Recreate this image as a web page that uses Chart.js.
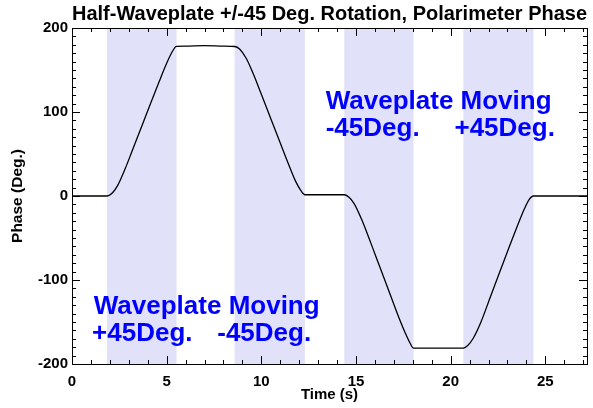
<!DOCTYPE html>
<html>
<head>
<meta charset="utf-8">
<script src="https://cdn.jsdelivr.net/npm/chart.js@4/dist/chart.umd.min.js"></script>
<style>
  html, body { margin: 0; padding: 0; background: #fff; }
  #wrap { width: 593px; height: 408px; }
</style>
</head>
<body>
<div id="wrap"><canvas id="phaseChart"></canvas></div>
<script>
// Tempo (s) e fase (graus)
const tempo = [0, 1.85, 2.1, 2.4, 2.8, 3.2, 3.7, 4.2, 4.6, 5.0, 5.3, 5.52,
    6.0, 7.0, 8.0, 8.6,
    8.85, 9.2, 9.6, 10.0, 10.5, 11.0, 11.4, 11.8, 12.1, 12.3,
    13.0, 14.38,
    14.6, 14.9, 15.3, 15.8, 16.3, 16.8, 17.2, 17.6, 17.85, 18.04,
    19.0, 20.67,
    20.9, 21.2, 21.6, 22.1, 22.6, 23.1, 23.5, 23.9, 24.15, 24.37,
    25.0, 27.2];
const fase = [0, 0, 3, 12, 32, 55, 84, 113, 136, 158, 172, 178,
    178.5, 179, 178.5, 178,
    175, 164, 144, 121, 92, 63, 40, 18, 6, 1.5,
    1.5, 1.5,
    -1, -9, -28, -57, -87, -117, -141, -163, -175, -181,
    -181, -181,
    -178, -169, -150, -120, -90, -60, -37, -15, -4, 0,
    0, 0];

// Intervalos em que a lâmina se move
const faixaInicio = [1.85, 8.59, 14.38, 20.67];
const faixaFim = [5.52, 12.3, 18.04, 24.37];

const xTicks = [0, 5, 10, 15, 20, 25];
const yTicks = [-200, -100, 0, 100, 200];

// Anotações (coordenadas nos dados)
const anotTextos = ['Waveplate Moving', '-45Deg.', '+45Deg.', 'Waveplate Moving', '+45Deg.', '-45Deg.'];
const anotX = [13.4, 13.4, 20.2, 1.15, 1.06, 7.67];
const anotY = [104, 72, 72, -140.8, -173, -173];

const FONTE = '"Liberation Sans", Arial, Helvetica, sans-serif';

const faixasPlugin = {
    id: 'faixas',
    beforeDatasetsDraw(chart) {
        const { ctx, chartArea, scales } = chart;
        ctx.save();
        ctx.fillStyle = '#e1e1fa';
        faixaInicio.forEach((ini, i) => {
            const x0 = scales.x.getPixelForValue(ini);
            const x1 = scales.x.getPixelForValue(faixaFim[i]);
            ctx.fillRect(x0, chartArea.top, x1 - x0, chartArea.bottom - chartArea.top);
        });
        ctx.restore();
    }
};

const molduraPlugin = {
    id: 'moldura',
    afterDatasetsDraw(chart) {
        const { ctx, chartArea, scales } = chart;
        const { left, right, top, bottom } = chartArea;
        ctx.save();
        ctx.strokeStyle = '#000';
        ctx.lineWidth = 1;
        ctx.beginPath();
        // marcas no eixo x (a cada 1 s, maiores a cada 5)
        for (let v = 0; v <= scales.x.max; v += 1) {
            const px = Math.round(scales.x.getPixelForValue(v)) + 0.5;
            const len = v % 5 === 0 ? 8 : 4;
            ctx.moveTo(px, bottom); ctx.lineTo(px, bottom - len);
            ctx.moveTo(px, top); ctx.lineTo(px, top + len);
        }
        // marcas no eixo y (a cada 10, maiores a cada 100)
        for (let v = scales.y.min; v <= scales.y.max; v += 10) {
            const py = Math.round(scales.y.getPixelForValue(v)) + 0.5;
            const len = v % 100 === 0 ? 8 : 4;
            ctx.moveTo(left, py); ctx.lineTo(left + len, py);
            ctx.moveTo(right, py); ctx.lineTo(right - len, py);
        }
        ctx.stroke();
        ctx.strokeRect(Math.round(left) + 0.5, Math.round(top) + 0.5,
            Math.round(right - left), Math.round(bottom - top));

        // textos azuis
        ctx.fillStyle = '#0000ff';
        ctx.font = 'bold 26px ' + FONTE;
        ctx.textBaseline = 'alphabetic';
        ctx.textAlign = 'left';
        anotTextos.forEach((t, i) => {
            ctx.fillText(t, scales.x.getPixelForValue(anotX[i]), scales.y.getPixelForValue(anotY[i]));
        });
        ctx.restore();
    }
};

const pontos = tempo.map((t, i) => ({ x: t, y: fase[i] }));

new Chart(document.getElementById('phaseChart'), {
    type: 'line',
    data: {
        datasets: [{
            data: pontos,
            borderColor: '#000',
            borderWidth: 1.3,
            pointRadius: 0,
            fill: false,
            cubicInterpolationMode: 'monotone'
        }]
    },
    options: {
        responsive: true,
        maintainAspectRatio: false,
        animation: false,
        layout: { padding: { left: 0, right: 6, top: 0, bottom: 0 } },
        plugins: {
            legend: { display: false },
            tooltip: { enabled: false },
            title: {
                display: true,
                fullSize: false,
                text: 'Half-Waveplate +/-45 Deg. Rotation, Polarimeter Phase',
                color: '#000',
                font: { family: FONTE, size: 20, weight: 'bold' },
                padding: { top: 2, bottom: 2 }
            }
        },
        scales: {
            x: {
                type: 'linear',
                min: 0,
                max: 27.2,
                afterFit: s => { s.height = 44; },
                afterBuildTicks: s => { s.ticks = xTicks.map(v => ({ value: v })); },
                grid: { display: false, drawTicks: false },
                border: { display: false },
                ticks: {
                    color: '#000',
                    padding: 9,
                    maxRotation: 0,
                    font: { family: FONTE, size: 15, weight: 'bold' }
                },
                title: {
                    display: true,
                    text: 'Time (s)',
                    color: '#000',
                    padding: { top: 0, bottom: 4 },
                    font: { family: FONTE, size: 15, weight: 'bold' }
                }
            },
            y: {
                type: 'linear',
                min: -200,
                max: 200,
                afterFit: s => { s.width = 72; },
                afterBuildTicks: s => { s.ticks = yTicks.map(v => ({ value: v })); },
                grid: { display: false, drawTicks: false },
                border: { display: false },
                ticks: {
                    color: '#000',
                    padding: 4,
                    font: { family: FONTE, size: 15, weight: 'bold' }
                },
                title: {
                    display: true,
                    text: 'Phase (Deg.)',
                    color: '#000',
                    padding: { top: 8, bottom: 0 },
                    font: { family: FONTE, size: 15.5, weight: 'bold' }
                }
            }
        }
    },
    plugins: [faixasPlugin, molduraPlugin]
});
</script>
</body>
</html>
